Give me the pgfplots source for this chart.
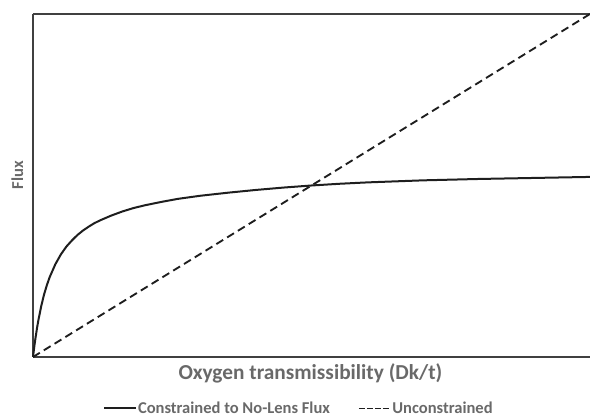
\documentclass[border=0pt]{standalone}
\usepackage{fontspec}
\setmainfont{Carlito}
\usepackage{pgfplots}
\pgfplotsset{compat=1.18}
\definecolor{txtgray}{RGB}{105,105,105}
\definecolor{axgray}{RGB}{64,64,64}
\definecolor{curve}{RGB}{30,30,30}
\begin{document}
\begin{tikzpicture}
\begin{axis}[
  scale only axis,
  width=417.75pt, height=257.25pt,
  xmin=0, xmax=100, ymin=0, ymax=100,
  separate axis lines,
  axis x line=box,
  axis y line=left,
  x axis line style={-, draw=axgray, line width=1.3pt},
  y axis line style={-, draw=axgray, line width=1.3pt},
  xtick=\empty, ytick=\empty,
  clip=false,
  xlabel={\fontsize{16}{18}\selectfont\bfseries Oxygen transmissibility (Dk/t)},
  ylabel={\fontsize{12.5}{14}\selectfont\bfseries Flux},
  x label style={at={(axis description cs:0.498,-0.047)}, anchor=center, text=txtgray},
  y label style={at={(axis description cs:-0.028,0.53)}, anchor=center, text=txtgray},
  legend columns=2,
  legend style={draw=none, fill=none, at={(axis description cs:0.477,-0.150)}, anchor=center,
    font=\fontsize{12.4}{14}\selectfont\bfseries, text=txtgray,
    /tikz/every even column/.append style={column sep=20pt},
    nodes={inner sep=1pt},
    inner sep=0pt},
  legend image code/.code={\draw[#1] (0pt,0pt) -- (23.5pt,0pt);},
]
\addplot[curve, line width=1.5pt] coordinates {
(0,0) (0.25,3.25) (0.5,6.1) (0.75,8.7) (1,11.0) (1.5,15.0) (2,18.3) (2.5,21.0) (3,23.3)
(4,27.0) (5,29.9) (6,32.2) (7,34.0) (8,35.6) (9,36.9) (10,38.0) (11,39.0) (12,39.8)
(14,41.2) (16,42.4) (18,43.4) (20,44.2) (23,45.2) (26,46.1) (30,47.0) (35,47.9)
(40,48.7) (45,49.4) (50,50.0) (55,50.5) (60,50.9) (70,51.5) (80,51.9) (90,52.2) (100,52.5)
};
\addlegendentry{Constrained to No-Lens Flux}
\addplot[curve, line width=1.4pt, dash pattern=on 6pt off 3.5pt,
  legend image post style={dash pattern=on 4.5pt off 1.5pt}]
  coordinates {(0,0) (100,100)};
\addlegendentry{Unconstrained}
\coordinate (sw) at (rel axis cs:0,0);
\coordinate (ne) at (rel axis cs:1,1);
\end{axis}
\pgfresetboundingbox
\path ([shift={(-24.75pt,-47.25pt)}]sw) rectangle ([shift={(0pt,10.5pt)}]ne);
\end{tikzpicture}
\end{document}
